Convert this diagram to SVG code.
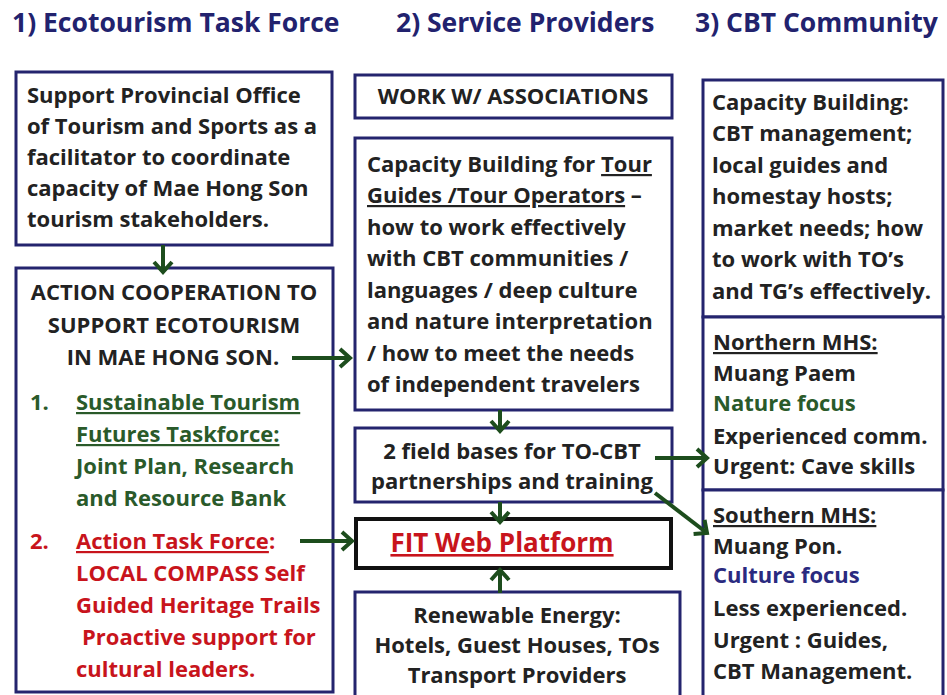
<svg xmlns="http://www.w3.org/2000/svg" width="947" height="695" viewBox="0 0 947 695">
<defs>
<style>
text{font-family:"Open Sans","Noto Sans","Liberation Sans",sans-serif;font-weight:700;fill:#222}
.t{font-size:26.5px;fill:#22226e}
.b{font-size:22px}
.box{fill:#fff;stroke:#24246e;stroke-width:3}
.g{fill:#2a5a2a}
.r{fill:#c8141c}
.n{fill:#2a2a80}
.u{text-decoration:underline}
.m{text-anchor:middle}
.ar{stroke:#1d4d1d;stroke-width:4;fill:none;marker-end:url(#ah)}
</style>
<marker id="ah" markerUnits="userSpaceOnUse" markerWidth="22" markerHeight="22" refX="13" refY="11" orient="auto">
<path d="M3,2 L13,11 L3,20" fill="none" stroke="#1d4d1d" stroke-width="4"/>
</marker>
</defs>
<rect width="947" height="695" fill="#fff"/>
<g id="titles">
<text class="t" x="12" y="32">1) Ecotourism Task Force</text>
<text class="t" x="396" y="32">2) Service Providers</text>
<text class="t" x="695" y="32">3) CBT Community</text>
</g>
<g id="support">
<rect class="box" x="16" y="72" width="316" height="173"/>
<text class="b" x="27" y="103">Support Provincial Office</text>
<text class="b" x="27" y="134">of Tourism and Sports as a</text>
<text class="b" x="27" y="165">facilitator to coordinate</text>
<text class="b" x="27" y="196">capacity of Mae Hong Son</text>
<text class="b" x="27" y="227">tourism stakeholders.</text>
</g>
<g id="action">
<rect class="box" x="16" y="268" width="317" height="424"/>
<text class="b m" x="174" y="300">ACTION COOPERATION TO</text>
<text class="b m" x="174" y="333">SUPPORT ECOTOURISM</text>
<text class="b m" x="173" y="365">IN MAE HONG SON.</text>
<text class="b g" x="30" y="410">1.</text>
<text class="b g u" x="76" y="410">Sustainable Tourism</text>
<text class="b g u" x="76" y="442">Futures Taskforce:</text>
<text class="b g" x="76" y="474">Joint Plan, Research</text>
<text class="b g" x="76" y="506">and Resource Bank</text>
<text class="b r" x="30" y="549">2.</text>
<text class="b r" x="76" y="549"><tspan class="u">Action Task Force</tspan>:</text>
<text class="b r" x="76" y="581">LOCAL COMPASS Self</text>
<text class="b r" x="76" y="613">Guided Heritage Trails</text>
<text class="b r" x="82" y="645">Proactive support for</text>
<text class="b r" x="76" y="677">cultural leaders.</text>
</g>
<g id="work">
<rect class="box" x="355" y="75" width="317" height="43"/>
<text class="b m" x="513" y="104">WORK W/ ASSOCIATIONS</text>
</g>
<g id="capacity-tg">
<rect class="box" x="355" y="138" width="317" height="272"/>
<text class="b" x="367" y="172">Capacity Building for <tspan class="u">Tour</tspan></text>
<text class="b" x="367" y="203"><tspan class="u">Guides /Tour Operators</tspan> –</text>
<text class="b" x="367" y="235">how to work effectively</text>
<text class="b" x="367" y="266">with CBT communities  /</text>
<text class="b" x="367" y="298">languages / deep culture</text>
<text class="b" x="367" y="329">and nature interpretation</text>
<text class="b" x="367" y="361">/ how to meet the needs</text>
<text class="b" x="367" y="392">of independent travelers</text>
</g>
<g id="field">
<rect class="box" x="355" y="428" width="317" height="74"/>
<text class="b m" x="512" y="459">2 field bases for TO-CBT</text>
<text class="b m" x="512" y="489">partnerships and training</text>
</g>
<g id="fit">
<rect x="356" y="519" width="315" height="49" fill="#fff" stroke="#111" stroke-width="4"/>
<text class="r u m" x="502" y="552" style="font-size:26px">FIT Web Platform</text>
</g>
<g id="renewable">
<rect class="box" x="355" y="592" width="325" height="110"/>
<text class="b m" x="517" y="623">Renewable Energy:</text>
<text class="b m" x="517" y="653">Hotels, Guest Houses, TOs</text>
<text class="b m" x="517" y="683">Transport Providers</text>
</g>
<g id="cbt-capacity">
<rect class="box" x="703" y="80" width="240" height="237"/>
<text class="b" x="712" y="110">Capacity Building:</text>
<text class="b" x="712" y="141">CBT management;</text>
<text class="b" x="712" y="173">local guides and</text>
<text class="b" x="712" y="204">homestay hosts;</text>
<text class="b" x="712" y="236">market needs; how</text>
<text class="b" x="712" y="267">to work with TO’s</text>
<text class="b" x="712" y="299">and TG’s effectively.</text>
</g>
<g id="northern">
<rect class="box" x="703" y="317" width="240" height="173"/>
<text class="b u" x="713" y="350">Northern MHS:</text>
<text class="b" x="713" y="381">Muang Paem</text>
<text class="b g" x="713" y="411">Nature focus</text>
<text class="b" x="713" y="444">Experienced comm.</text>
<text class="b" x="713" y="474">Urgent: Cave skills</text>
</g>
<g id="southern">
<rect class="box" x="703" y="490" width="240" height="212"/>
<text class="b u" x="713" y="523">Southern MHS:</text>
<text class="b" x="713" y="554">Muang Pon.</text>
<text class="b n" x="713" y="583">Culture focus</text>
<text class="b" x="713" y="616">Less experienced.</text>
<text class="b" x="713" y="648">Urgent : Guides,</text>
<text class="b" x="713" y="679">CBT Management.</text>
</g>
<g id="connectors">
<path class="ar" d="M163,245 V272"/>
<path class="ar" d="M292,358 H350"/>
<path class="ar" d="M300,541 H352"/>
<path class="ar" d="M500,410 V431"/>
<path class="ar" d="M500,502 V522"/>
<path class="ar" d="M500,593 V570"/>
<path class="ar" d="M655,458 H707"/>
<path class="ar" d="M655,493 L707,533"/>
</g>
</svg>
